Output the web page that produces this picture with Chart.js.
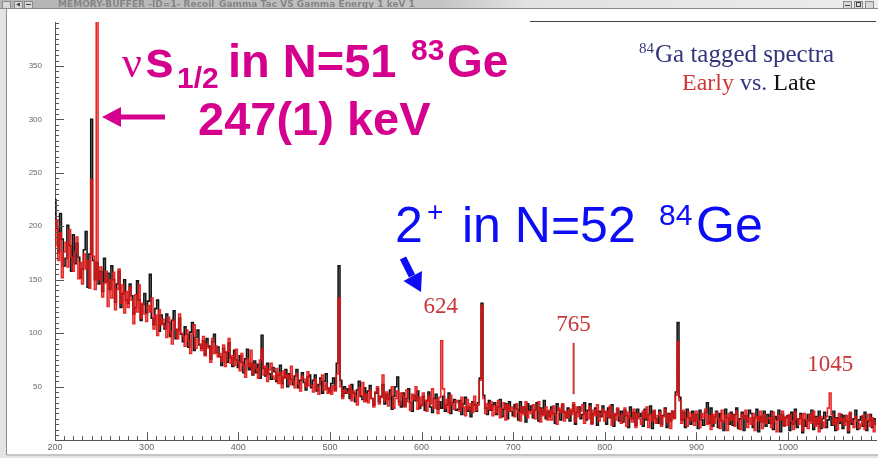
<!DOCTYPE html>
<html><head><meta charset="utf-8">
<script src="https://cdn.jsdelivr.net/npm/chart.js@4/dist/chart.umd.min.js"></script>
<style>html,body{margin:0;padding:0;background:#fff;overflow:hidden}canvas{display:block}</style>
</head><body>
<canvas id="c" width="878" height="458"></canvas>
<script>
// Histogram bins: first bin energy (keV) and bin width (keV)
const binStart = 200;
const binWidth = 2;
const xMin = 200, xMax = 1096, yMin = 0, yMax = 391;
const xTickValues = [200, 300, 400, 500, 600, 700, 800, 900, 1000];
const yTickValues = [50, 100, 150, 200, 250, 300, 350];
const minorStepX = 10, minorStepY = 5;

// "Late" spectrum (black)
const lateCounts = [
225,198,176,212,188,163,170,201,182,158,
192,165,184,171,152,160,178,195,143,174,
300,168,150,166,146,158,139,170,148,156,
141,163,150,129,146,158,124,137,150,131,
128,146,135,118,124,149,131,112,127,137,
119,130,155,114,108,123,131,102,117,109,
104,118,110,97,112,121,95,103,114,99,
92,106,99,87,101,110,84,96,103,89,
86,93,80,95,88,76,92,99,82,87,
78,70,86,82,73,91,77,69,84,75,
68,79,73,63,76,85,66,72,61,74,
63,71,58,98,67,60,72,62,57,68,
64,55,61,70,53,59,66,50,62,57,
52,60,66,49,56,63,54,47,59,61,
49,56,61,46,52,58,44,55,62,48,
45,53,58,47,72,163,56,41,50,44,
48,39,52,44,36,47,55,41,38,49,
37,46,51,39,33,44,48,36,41,52,
34,43,38,47,29,41,50,59,36,31,
44,32,39,48,35,27,42,37,46,30,
33,41,28,37,45,31,26,39,43,29,
36,30,41,27,33,44,25,35,38,28,
29,37,24,34,40,27,31,22,36,33,
27,35,58,128,42,30,24,37,28,33,
35,24,31,38,22,29,34,20,36,27,
23,33,29,19,36,26,31,17,34,28,
32,21,28,35,18,30,24,37,20,27,
22,31,25,16,34,28,19,33,26,21,
30,18,27,33,15,26,31,20,24,35,
19,28,34,16,25,30,14,27,22,32,
26,15,30,21,33,13,24,29,18,27,
17,28,23,12,31,20,26,14,29,22,
25,13,29,19,24,32,11,27,20,16,
28,15,23,30,12,25,18,27,21,45,
110,40,19,26,12,29,21,15,27,18,
24,11,28,19,14,26,35,16,30,13,
22,27,12,25,18,9,29,21,15,26,
14,24,30,11,20,26,9,23,17,28,
25,12,21,29,8,22,17,27,13,24,
16,27,10,22,19,28,8,24,14,21,
23,9,26,15,29,12,20,25,7,19,
13,24,18,28,10,22,15,27,11,20,
26,12,19,22,14,27,9,21,16,24,
11,23,18,7,25,15,20,28,10,19,
22,13,26,9,18,24,12,20,15
];

// "Early" spectrum (red)
const earlyCounts = [
182,206,168,194,152,176,185,162,197,171,
158,176,190,151,166,146,174,160,168,142,
244,172,141,420,150,162,134,147,158,125,
150,133,157,122,141,160,128,145,119,139,
124,143,131,109,136,120,145,114,128,118,
111,126,120,133,104,117,98,122,108,113,
106,96,115,101,90,112,104,95,118,100,
97,88,103,93,81,99,108,86,94,90,
84,97,79,90,86,73,95,81,88,78,
81,74,89,69,83,95,72,79,70,85,
73,65,81,70,59,76,69,84,62,71,
67,58,75,85,61,69,55,66,72,60,
57,67,53,63,49,65,58,61,52,69,
55,49,62,53,46,60,57,50,64,51,
51,45,57,48,43,56,61,47,53,44,
49,43,51,46,62,133,50,39,47,45,
44,51,37,46,41,33,49,42,54,36,
43,35,47,39,31,45,50,34,40,61,
37,45,32,42,50,30,39,46,33,44,
41,31,47,36,28,43,38,50,29,40,
32,44,37,27,41,34,48,30,38,25,
40,93,48,30,38,26,42,33,29,37,
35,27,40,31,23,38,29,34,26,41,
28,33,56,126,39,25,34,29,36,23,
32,26,37,21,30,35,19,33,27,31,
29,22,34,26,18,31,24,36,21,27,
25,33,20,28,36,17,29,23,31,19,
28,19,32,24,15,30,26,34,18,27,
21,29,24,35,17,31,22,27,33,16,
26,20,31,15,28,23,33,18,25,29,
18,27,22,32,14,25,19,30,23,16,
24,30,13,26,21,17,29,12,25,20,
15,27,21,31,12,24,18,28,16,23,
26,13,22,29,17,24,11,27,20,42,
92,37,16,28,21,13,26,19,24,14,
27,18,12,25,21,29,15,23,10,24,
16,26,20,11,28,17,23,9,25,19,
23,13,27,18,10,24,20,28,12,21,
15,25,9,22,18,27,11,24,16,20,
21,12,26,17,8,23,19,27,13,22,
14,24,18,10,26,20,15,23,9,25,
19,11,24,16,27,13,21,8,22,17,
12,22,30,44,24,15,20,10,25,18,
20,14,23,9,26,17,12,22,18,11,
15,23,10,19,24,13,21,8,17
];

const peakLabels = [
  { text: '624', energy: 621, count: 119 },
  { text: '765', energy: 766, count: 102 },
  { text: '1045', energy: 1046, count: 65 }
];

const toPoints = arr => arr.map((v, i) => ({ x: binStart + i * binWidth, y: v }));

const MAG = '#d6008f', BLUE = '#0c0cf5', PEAKRED = '#c83737';

function run(c, s, x, y, font, color) {
  c.font = font; c.fillStyle = color; c.textAlign = 'left'; c.textBaseline = 'alphabetic';
  c.fillText(s, x, y);
  return x + c.measureText(s).width;
}

const chromePlugin = {
  id: 'chrome',
  beforeDraw(chart) {
    const c = chart.ctx;
    c.save(); c.fillStyle = '#fff'; c.fillRect(0, 0, chart.width, chart.height); c.restore();
  },
  afterDraw(chart) {
    const c = chart.ctx, xs = chart.scales.x, ys = chart.scales.y, a = chart.chartArea;
    c.save();
    // inward tick marks
    c.strokeStyle = '#555'; c.lineWidth = 1; c.beginPath();
    for (let v = xMin; v <= xMax; v += minorStepX) {
      const px = Math.round(xs.getPixelForValue(v)) + 0.5;
      const L = (v % 100 === 0) ? 8 : 4;
      c.moveTo(px, a.bottom); c.lineTo(px, a.bottom - L);
    }
    for (let v = yMin; v <= yMax; v += minorStepY) {
      const py = Math.round(ys.getPixelForValue(v)) + 0.5;
      const L = (v % 50 === 0) ? 9 : 4;
      c.moveTo(a.left, py); c.lineTo(a.left + L, py);
    }
    c.stroke();
    // top frame line (right part, the left is hidden by the text box)
    c.strokeStyle = '#444'; c.beginPath(); c.moveTo(530, a.top - 0.5); c.lineTo(a.right, a.top - 0.5); c.stroke();

    // window chrome
    const g = c.createLinearGradient(0, 0, 878, 0);
    g.addColorStop(0, '#b4b4b4'); g.addColorStop(0.5, '#c4c4c4'); g.addColorStop(0.6, '#e2e2e2'); g.addColorStop(1, '#ececec');
    c.fillStyle = g; c.fillRect(0, 0, 878, 8);
    c.strokeStyle = '#8a8a8a'; c.beginPath(); c.moveTo(0, 8.5); c.lineTo(878, 8.5); c.stroke();
    c.fillStyle = '#e4e4e4'; c.fillRect(0, 9, 6, 449);
    c.strokeStyle = '#8c8c8c'; c.beginPath(); c.moveTo(6.5, 9); c.lineTo(6.5, 455); c.lineTo(878, 455); c.stroke();
    c.fillStyle = '#e4e4e4'; c.fillRect(0, 456, 878, 2);
    // buttons
    c.fillStyle = '#d8d8d8'; c.strokeStyle = '#8a8a8a';
    [[2, 1], [14, 1], [24, 1], [843, 1], [854, 1], [865, 1]].forEach(([bx, by]) => {
      c.fillRect(bx, by, 8, 7); c.strokeRect(bx + 0.5, by + 0.5, 8, 7);
    });
    c.fillStyle = '#444';
    c.beginPath(); c.moveTo(16, 4.5); c.lineTo(20, 2.5); c.lineTo(20, 6.5); c.fill();
    c.fillRect(26, 4, 5, 1); c.fillRect(845, 5, 5, 1); c.strokeStyle = '#444'; c.strokeRect(856.5, 2.5, 4, 4);
    c.font = 'bold 8px "DejaVu Sans"'; c.fillStyle = '#858585'; c.textBaseline = 'alphabetic'; c.textAlign = 'left';
    const title = 'MEMORY-BUFFER -ID=1- Recoil_Gamma Tac VS Gamma Energy 1 keV 1';
    const tw = c.measureText(title).width;
    c.save(); c.translate(58, 7); c.scale(357 / tw, 1); c.fillText(title, 0, 0); c.restore();

    // magenta annotation, line 1
    run(c, 'ν', 122, 77, '44px "Liberation Serif"', MAG);
    run(c, 's', 145, 77, 'bold 52px "Liberation Sans"', MAG);
    run(c, '1/2', 177, 88, 'bold 30px "Liberation Sans"', MAG);
    run(c, 'in N=51', 228, 77, 'bold 47px "Liberation Sans"', MAG);
    run(c, '83', 411, 60, 'bold 30px "Liberation Sans"', MAG);
    run(c, 'Ge', 447, 77, 'bold 46px "Liberation Sans"', MAG);
    // line 2 with arrow
    c.strokeStyle = MAG; c.lineWidth = 5; c.beginPath(); c.moveTo(165, 117); c.lineTo(116, 117); c.stroke();
    c.fillStyle = MAG; c.beginPath(); c.moveTo(102, 117); c.lineTo(121, 107); c.lineTo(121, 127); c.closePath(); c.fill();
    run(c, '247(1) keV', 198, 135, 'bold 47px "Liberation Sans"', MAG);

    // blue annotation
    run(c, '2', 395, 242, '50px "Liberation Sans"', BLUE);
    run(c, '+', 427, 221, '28px "Liberation Sans"', BLUE);
    run(c, 'in N=52', 462, 242, '50px "Liberation Sans"', BLUE);
    run(c, '84', 659, 225, '30px "Liberation Sans"', BLUE);
    run(c, 'Ge', 696, 242, '50px "Liberation Sans"', BLUE);
    // blue arrow
    c.strokeStyle = BLUE; c.lineWidth = 7; c.lineCap = 'butt';
    c.beginPath(); c.moveTo(403, 258); c.lineTo(412, 276); c.stroke();
    c.fillStyle = BLUE; c.beginPath(); c.moveTo(421, 292); c.lineTo(403.5, 281); c.lineTo(422, 271); c.closePath(); c.fill();

    // peak labels (positioned by data values)
    c.font = '23px "Liberation Serif"'; c.fillStyle = PEAKRED; c.textAlign = 'center';
    peakLabels.forEach(p => {
      c.fillText(p.text, xs.getPixelForValue(p.energy), ys.getPixelForValue(p.count));
    });
    // 765 marker line
    c.strokeStyle = PEAKRED; c.lineWidth = 2; c.beginPath();
    c.moveTo(xs.getPixelForValue(766), ys.getPixelForValue(91)); c.lineTo(xs.getPixelForValue(766), ys.getPixelForValue(43)); c.stroke();

    // top right legend text
    c.textAlign = 'left';
    let lx = run(c, '84', 639, 53, '15px "Liberation Serif"', '#34347e');
    run(c, 'Ga tagged spectra', lx + 1, 62, '25px "Liberation Serif"', '#34347e');
    lx = run(c, 'Early', 682, 90, '24px "Liberation Serif"', '#d03838');
    lx = run(c, ' vs.', lx, 90, '24px "Liberation Serif"', '#34347e');
    run(c, ' Late', lx, 90, '24px "Liberation Serif"', '#111');
    c.restore();
  }
};

new Chart(document.getElementById('c').getContext('2d'), {
  type: 'line',
  data: {
    datasets: [
      { label: 'Early', data: toPoints(earlyCounts), borderColor: 'rgba(228,20,20,0.9)', borderWidth: 1.6, pointRadius: 0, stepped: 'middle', fill: false },
      { label: 'Late', data: toPoints(lateCounts), borderColor: '#151515', borderWidth: 1.6, pointRadius: 0, stepped: 'middle', fill: false }
    ]
  },
  options: {
    responsive: false, animation: false, devicePixelRatio: 1,
    layout: { padding: { top: 22, right: 2, left: 0, bottom: 0 }, autoPadding: false },
    plugins: { legend: { display: false }, tooltip: { enabled: false } },
    scales: {
      x: {
        type: 'linear', min: xMin, max: xMax,
        afterFit(s) { s.height = 15; },
        afterBuildTicks(s) { s.ticks = xTickValues.map(v => ({ value: v })); },
        border: { display: true, color: '#555', width: 1 },
        grid: { display: false, drawTicks: false },
        ticks: { padding: 2, color: '#666', maxRotation: 0, autoSkip: false, font: { family: 'Liberation Sans', size: 9 }, callback: v => String(v) }
      },
      y: {
        type: 'linear', min: yMin, max: yMax,
        afterFit(s) { s.width = 55; },
        afterBuildTicks(s) { s.ticks = yTickValues.map(v => ({ value: v })); },
        border: { display: true, color: '#555', width: 1 },
        grid: { display: false, drawTicks: false },
        ticks: { padding: 13, color: '#666', autoSkip: false, font: { family: 'Liberation Sans', size: 8 }, callback: v => String(v) }
      }
    }
  },
  plugins: [chromePlugin]
});
</script>
</body></html>
